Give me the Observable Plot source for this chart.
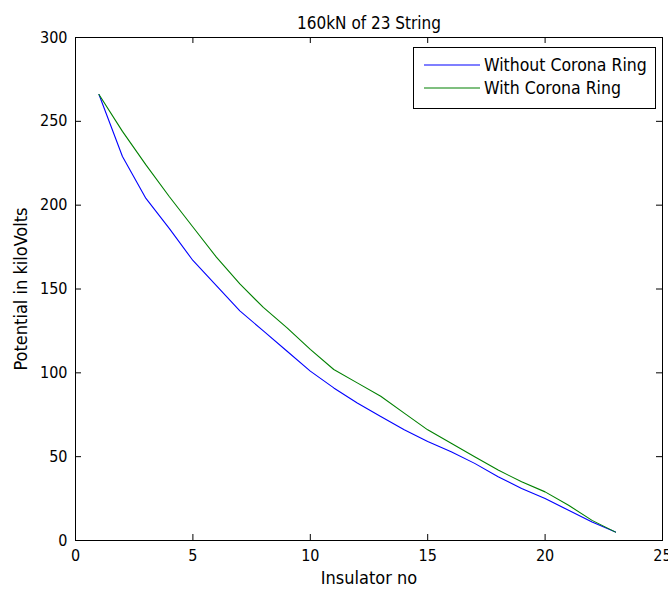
<!DOCTYPE html>
<html><head><meta charset="utf-8">
<script src="https://cdn.jsdelivr.net/npm/d3@7"></script>
<script src="https://cdn.jsdelivr.net/npm/@observablehq/plot@0.6"></script>
<style>
body{margin:0;background:#fff}
#wrap{position:relative;width:668px;height:594px}
#legend{position:absolute;left:413px;top:47px;width:243px;height:62px;border:1px solid #000;background:#fff;box-sizing:border-box;font-family:'DejaVu Sans Condensed','Liberation Sans Narrow','Liberation Sans',sans-serif;font-size:17.5px}
.row{position:absolute;left:10px;height:20px;display:flex;align-items:center}
.row svg{margin-right:4px}
</style>
</head><body>
<div id="wrap"><div id="chart"></div><div id="legend"></div></div>
<script>
const insulatorNo = [1,2,3,4,5,6,7,8,9,10,11,12,13,14,15,16,17,18,19,20,21,22,23];
const withoutRing = [266,229,204,186,167,152,137,125,113,101,91,82,74,66,59,53,46,38,31,25,18,11,5];
const withRing    = [266,244,224,205,187,169,153,139,127,114,102,94,86,76,66,58,50,42,35,29,21,12,5];
const seriesNames = ["Without Corona Ring","With Corona Ring"];
const seriesColors = ["#0000ff","#008000"];
const xTicks = [0,5,10,15,20,25];
const yTicks = [0,50,100,150,200,250,300];
const titleText = "160kN of 23 String";
const xLabel = "Insulator no";
const yLabel = "Potential in kiloVolts";

const data = insulatorNo.flatMap((n,i)=>[
  {n, v: withoutRing[i], s: seriesNames[0]},
  {n, v: withRing[i], s: seriesNames[1]}
]);

const W = 668, H = 594, mL = 75, mR = 6, mT = 37, mB = 54;
const pw = W - mL - mR, ph = H - mT - mB, tk = 6;
const font = "'DejaVu Sans Condensed','Liberation Sans Narrow','Liberation Sans',sans-serif";

const plot = Plot.plot({
  width: W, height: H, marginLeft: mL, marginRight: mR, marginTop: mT, marginBottom: mB,
  style: {fontFamily: font, fontSize: "16px", background: "#fff", color: "#000"},
  x: {domain: [0,25], label: null},
  y: {domain: [0,300], label: null},
  color: {domain: seriesNames, range: seriesColors},
  marks: [
    Plot.line(data, {x: "n", y: "v", z: "s", stroke: "s", strokeWidth: 1.1}),
    Plot.frame({stroke: "#000"}),
    Plot.tickX(xTicks, {x: d=>d, insetTop: ph - tk, stroke: "#000"}),
    Plot.tickX(xTicks, {x: d=>d, insetBottom: ph - tk, stroke: "#000"}),
    Plot.tickY(yTicks, {y: d=>d, insetRight: pw - tk, stroke: "#000"}),
    Plot.tickY(yTicks, {y: d=>d, insetLeft: pw - tk, stroke: "#000"}),
    Plot.axisX({ticks: xTicks, tickSize: 0, tickPadding: 9, label: null}),
    Plot.axisY({ticks: yTicks, tickSize: 0, tickPadding: 8, label: null}),
    Plot.text([titleText], {text: d=>d, frameAnchor: "top", dy: -21, fontSize: 17}),
    Plot.text([xLabel], {text: d=>d, frameAnchor: "bottom", dy: 43, fontSize: 18}),
    Plot.text([yLabel], {text: d=>d, frameAnchor: "left", textAnchor: "middle", rotate: -90, dx: -54, fontSize: 18})
  ]
});
document.getElementById("chart").append(plot);

const legend = document.getElementById("legend");
seriesNames.forEach((name,i)=>{
  const row = document.createElement("div");
  row.className = "row";
  row.style.top = (7 + i*23) + "px";
  row.innerHTML = `<svg width="56" height="4"><line x1="0" x2="56" y1="2" y2="2" stroke="${seriesColors[i]}" stroke-width="1.2"/></svg><span>${name}</span>`;
  legend.append(row);
});
</script>
</body></html>
